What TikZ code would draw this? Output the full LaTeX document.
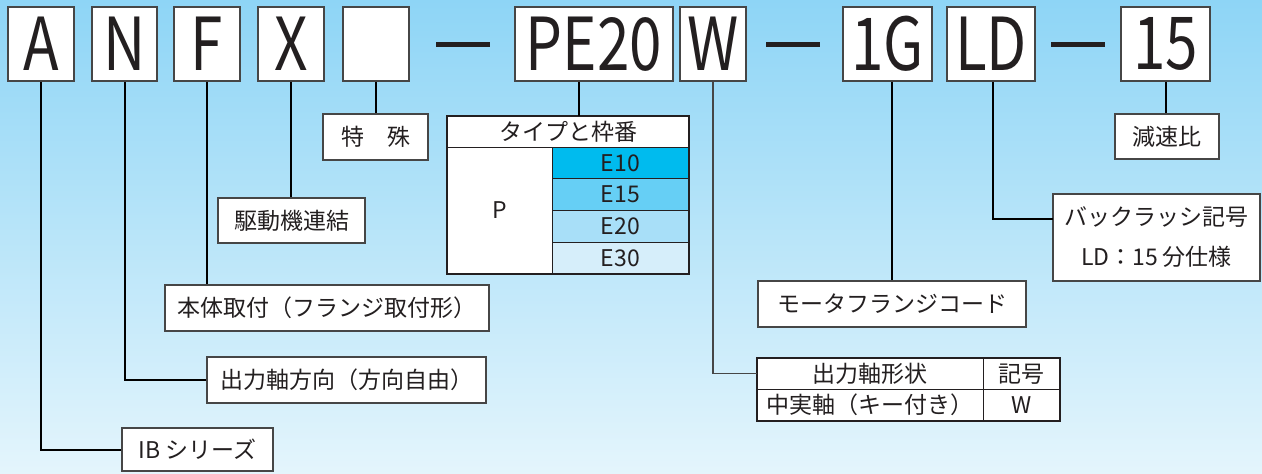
\documentclass[tikz,border=0pt]{standalone}
\usepackage{fontspec}
\setmainfont{Noto Sans CJK JP}
\usetikzlibrary{positioning}

\definecolor{bgtop}{RGB}{142,213,246}
\definecolor{bgbot}{RGB}{228,245,252}
\definecolor{ink}{RGB}{35,31,32}
\definecolor{edge}{RGB}{70,70,70}
\definecolor{rowa}{RGB}{0,187,238}
\definecolor{rowb}{RGB}{102,207,245}
\definecolor{rowc}{RGB}{168,223,248}
\definecolor{rowd}{RGB}{214,238,250}

\newcommand\narrow[1]{\scalebox{0.8}[1]{#1}}

\tikzset{
  codebox/.style={draw=edge, line width=1.5pt, fill=white, minimum height=74,
    inner sep=0pt, text=ink, font=\fontsize{73}{73}\selectfont},
  labelbox/.style={draw=edge, line width=1.2pt, fill=white, minimum height=46,
    inner sep=0pt, text=ink, align=center, font=\fontsize{23}{40}\selectfont},
  cell/.style={draw=ink, line width=0.8pt, inner sep=0pt, text=ink,
    font=\fontsize{23}{23}\selectfont},
  dashbar/.style={fill=ink, minimum width=54, minimum height=5, inner sep=0pt},
  link/.style={draw=black, line width=2pt},
  thinlink/.style={draw=edge, line width=1.2pt},
}

\begin{document}
\begin{tikzpicture}[x=1pt, y=-1pt]
  % background
  \useasboundingbox (0,0) rectangle (1262,474);
  \shade[top color=bgtop, bottom color=bgbot] (0,0) rectangle (1262,474);

  % model code
  \node[codebox, minimum width=66] (A) at (41,44) {\narrow{A}};
  \node[codebox, minimum width=65] (N) at (124.5,44) {\narrow{N}};
  \node[codebox, minimum width=66] (F) at (207,44) {\narrow{F}};
  \node[codebox, minimum width=66] (X) at (291,44) {\narrow{X}};
  \node[codebox, minimum width=66] (blank) at (376,44) {};
  \node[dashbar] (d1) at (463,44) {};
  \node[codebox, minimum width=158] (PE) at (594,44) {\narrow{PE20}};
  \node[codebox, minimum width=66] (W) at (713,44) {\narrow{W}};
  \node[dashbar] (d2) at (793,44) {};
  \node[codebox, minimum width=89] (G) at (887.5,44) {\narrow{1G}};
  \node[codebox, minimum width=88] (LD) at (991,44) {\narrow{LD}};
  \node[dashbar] (d3) at (1078,44) {};
  \node[codebox, minimum width=89] (R) at (1165.5,44) {\narrow{15}};

  % labels
  \node[labelbox, minimum width=105] (special) at (375.5,137) {特　殊};
  \node[labelbox, minimum width=147, minimum height=45] (drive) at (291.5,220.5) {駆動機連結};
  \node[labelbox, minimum width=324] (mount) at (327,308) {本体取付（フランジ取付形）};
  \node[labelbox, minimum width=279] (dir) at (346.5,380) {出力軸方向（方向自由）};
  \node[labelbox, minimum width=151, minimum height=43] (IB) at (197.5,449.5) {IB シリーズ};
  \node[labelbox, minimum width=268] (flange) at (892,304) {モータフランジコード};
  \node[labelbox, minimum width=207, minimum height=87] (backlash) at (1156.5,237.5) {バックラッシ記号\\LD：15 分仕様};
  \node[labelbox, minimum width=104, minimum height=45] (ratio) at (1167,136.5) {減速比};

  % type and frame table
  \node[cell, fill=white, minimum width=242, minimum height=31] (typehead) at (568,131.5) {タイプと枠番};
  \node[cell, fill=white, minimum width=105, minimum height=127] (typeP) at (499.5,210.5) {P};
  \foreach \c/\t [count=\i] in {rowa/E10, rowb/E15, rowc/E20, rowd/E30}
    \node[cell, fill=\c, minimum width=137, minimum height=31.75] (type\i)
      at (620.5,{147+31.75*(\i-0.5)}) {\t};
  \draw[ink, line width=2pt] (typehead.north west) rectangle (type4.south east);

  % shaft table
  \node[cell, fill=white, minimum width=226, minimum height=31.5] (shafthead) at (870,373.75) {出力軸形状};
  \node[cell, fill=white, minimum width=77, minimum height=31.5] (signhead) at (1021.5,373.75) {記号};
  \node[cell, fill=white, minimum width=226, minimum height=31.5] (shaftkind) at (870,405.25) {中実軸（キー付き）};
  \node[cell, fill=white, minimum width=77, minimum height=31.5] (shaftsign) at (1021.5,405.25) {W};
  \draw[ink, line width=2pt] (shafthead.north west) rectangle (shaftsign.south east);

  % connectors
  \coordinate (bl) at (1053,219);
  \draw[link] (A.south) |- (IB.west);
  \draw[link] (N.south) |- (dir.west);
  \draw[link] (F.south) -- (F.south |- mount.north);
  \draw[link] (X.south) -- (X.south |- drive.north);
  \draw[link] (blank.south) -- (blank.south |- special.north);
  \draw[link] ([xshift=-15]PE.south) -- ([xshift=-15]PE.south |- typehead.north);
  \draw[thinlink] (W.south) |- (shafthead.west);
  \draw[link] ([xshift=4.5]G.south) -- ([xshift=4.5]G.south |- flange.north);
  \draw[link] ([xshift=2]LD.south) |- (bl);
  \draw[link] (R.south) -- (R.south |- ratio.north);
\end{tikzpicture}
\end{document}
